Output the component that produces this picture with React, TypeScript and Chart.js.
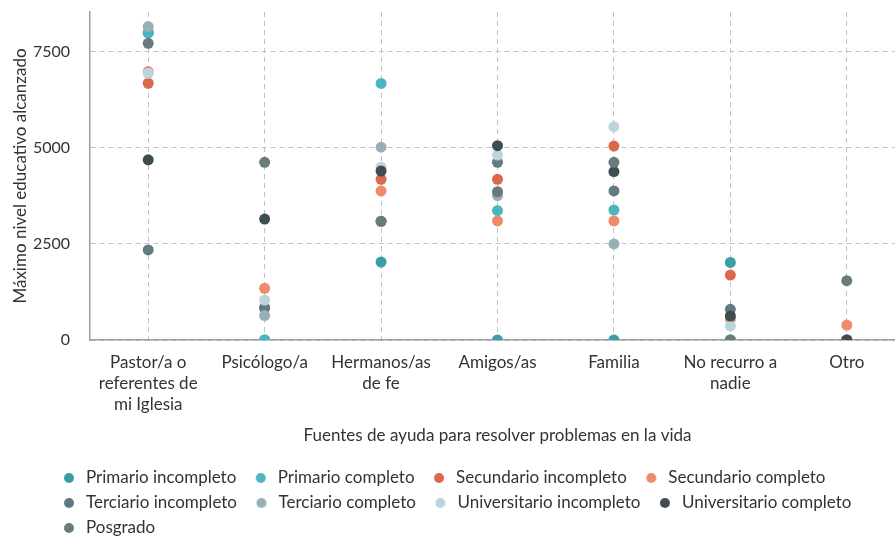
import React, { useEffect, useRef } from "react";
import { Chart, registerables } from "chart.js";

Chart.register(...registerables);

// ---------- data ----------
const categories: (string | string[])[] = [
  ["Pastor/a o", "referentes de", "mi Iglesia"],
  "Psicólogo/a",
  ["Hermanos/as", "de fe"],
  "Amigos/as",
  "Familia",
  ["No recurro a", "nadie"],
  "Otro",
];

const seriesNames = [
  "Primario incompleto",
  "Primario completo",
  "Secundario incompleto",
  "Secundario completo",
  "Terciario incompleto",
  "Terciario completo",
  "Universitario incompleto",
  "Universitario completo",
  "Posgrado",
];

const seriesColors = [
  "#3a9ea5",
  "#4bb6c2",
  "#d9694a",
  "#ef8a6a",
  "#607b81",
  "#98afb6",
  "#bcd5dc",
  "#3f4c51",
  "#687b7d",
];

const primarioIncompleto = [8000, 0, 2030, 0, 0, 2020, 0];
const primarioCompleto = [8000, 0, 6680, 3370, 3385, 0, 0];
const secundarioIncompleto = [6685, 850, 4185, 4185, 5050, 1690, 0];
const secundarioCompleto = [6990, 1345, 3880, 3100, 3100, 550, 390];
const terciarioIncompleto = [2345, 825, 3090, 4625, 3880, 800, 0];
const terciarioCompleto = [8160, 635, 5020, 3760, 2500, 0, 0];
const universitarioIncompleto = [6945, 1040, 4500, 4815, 5555, 365, 0];
const universitarioCompleto = [4690, 3150, 4400, 5060, 4385, 625, 0];
const posgrado = [7725, 4625, 3090, 3860, 4625, 0, 1545];

const seriesValues = [
  primarioIncompleto,
  primarioCompleto,
  secundarioIncompleto,
  secundarioCompleto,
  terciarioIncompleto,
  terciarioCompleto,
  universitarioIncompleto,
  universitarioCompleto,
  posgrado,
];

const yTicks = [0, 2500, 5000, 7500];
const yMax = 8540;

const xTitle = "Fuentes de ayuda para resolver problemas en la vida";
const yTitle = "Máximo nivel educativo alcanzado";

// ---------- layout constants ----------
const W = 905;
const H = 538;
const PLOT_BOTTOM = 340;
const FONT = "Lato, 'Open Sans', sans-serif";
const TEXT = "#333333";

function makeDot(color: string): HTMLCanvasElement {
  const c = document.createElement("canvas");
  c.width = 20;
  c.height = 12;
  const ctx = c.getContext("2d")!;
  ctx.fillStyle = color;
  ctx.beginPath();
  ctx.arc(14, 6, 5, 0, Math.PI * 2);
  ctx.fill();
  return c;
}

const legendPlacer = {
  id: "legendPlacer",
  beforeDraw(chart: any) {
    const lg = chart.legend;
    if (!lg) return;
    lg.left = 44.5;
    lg.right = 880;
    lg.top = 461.5;
  },
};

export default function App() {
  const ref = useRef<HTMLCanvasElement | null>(null);

  useEffect(() => {
    if (!ref.current) return;
    const dots = seriesColors.map(makeDot);
    const chart = new Chart(ref.current, {
      type: "line",
      data: {
        labels: categories as any,
        datasets: seriesNames.map((name, i) => ({
          label: name,
          data: seriesValues[i],
          showLine: false,
          backgroundColor: seriesColors[i],
          borderColor: seriesColors[i],
          pointBackgroundColor: seriesColors[i],
          pointBorderWidth: 0,
          pointRadius: 5.5,
          pointHoverRadius: 5.5,
          order: -i,
        })),
      },
      options: {
        responsive: false,
        animation: false,
        devicePixelRatio: 1,
        layout: { autoPadding: false, padding: { top: 12, left: 0, right: 0, bottom: 0 } },
        plugins: {
          tooltip: { enabled: false },
          legend: {
            display: true,
            position: "bottom",
            align: "start",
            fullSize: true,
            labels: {
              usePointStyle: true,
              pointStyleWidth: 25,
              boxHeight: 12,
              padding: 8,
              color: TEXT,
              font: { family: FONT, size: 17 },
              generateLabels: () =>
                seriesNames.map((name, i) => ({
                  text: name,
                  fillStyle: seriesColors[i],
                  strokeStyle: seriesColors[i],
                  lineWidth: 0,
                  pointStyle: dots[i],
                  hidden: false,
                  datasetIndex: i,
                  fontColor: TEXT,
                })) as any,
            },
          },
        },
        scales: {
          x: {
            type: "category",
            offset: true,
            grid: {
              display: true,
              offset: false,
              color: "#c2c2c2",
              lineWidth: 1,
              drawTicks: false,
            },
            border: { display: true, color: "#9a9fa3", width: 1.5, dash: [5, 4] },
            ticks: {
              color: TEXT,
              padding: 11.5,
              maxRotation: 0,
              autoSkip: false,
              font: { family: FONT, size: 17, lineHeight: 1.24 },
            },
            title: {
              display: true,
              text: xTitle,
              color: TEXT,
              font: { family: FONT, size: 17 },
              padding: { top: 0, bottom: 7 },
            },
            afterFit: (s: any) => {
              const lg = s.chart.legend;
              const lh = lg ? lg.height : 0;
              s.height = H - PLOT_BOTTOM - lh;
              s.paddingLeft = 0;
              s.paddingRight = 0;
            },
          },
          y: {
            type: "linear",
            min: 0,
            max: yMax,
            grid: {
              display: true,
              color: "#c2c2c2",
              lineWidth: 1,
              drawTicks: false,
            },
            border: { display: true, color: "#9a9fa3", width: 1.5, dash: [5, 4] },
            ticks: {
              color: TEXT,
              padding: 20,
              includeBounds: false,
              font: { family: FONT, size: 16 },
              callback: (v: any) => String(v),
            },
            afterBuildTicks: (s: any) => {
              s.ticks = yTicks.map((v) => ({ value: v }));
            },
            title: {
              display: true,
              text: yTitle,
              color: TEXT,
              font: { family: FONT, size: 17 },
              padding: { top: 10, bottom: 0 },
            },
            afterFit: (s: any) => {
              s.width = 90;
              s.paddingTop = 0;
              s.paddingBottom = 0;
            },
          },
        },
      },
      plugins: [legendPlacer],
    } as any);
    return () => chart.destroy();
  }, []);

  return (
    <div
      style={{
        position: "fixed",
        left: 0,
        top: 0,
        width: 895,
        height: H,
        overflow: "hidden",
        background: "#ffffff",
      }}
    >
      <canvas ref={ref} width={W} height={H} style={{ width: W, height: H, display: "block" }} />
    </div>
  );
}
